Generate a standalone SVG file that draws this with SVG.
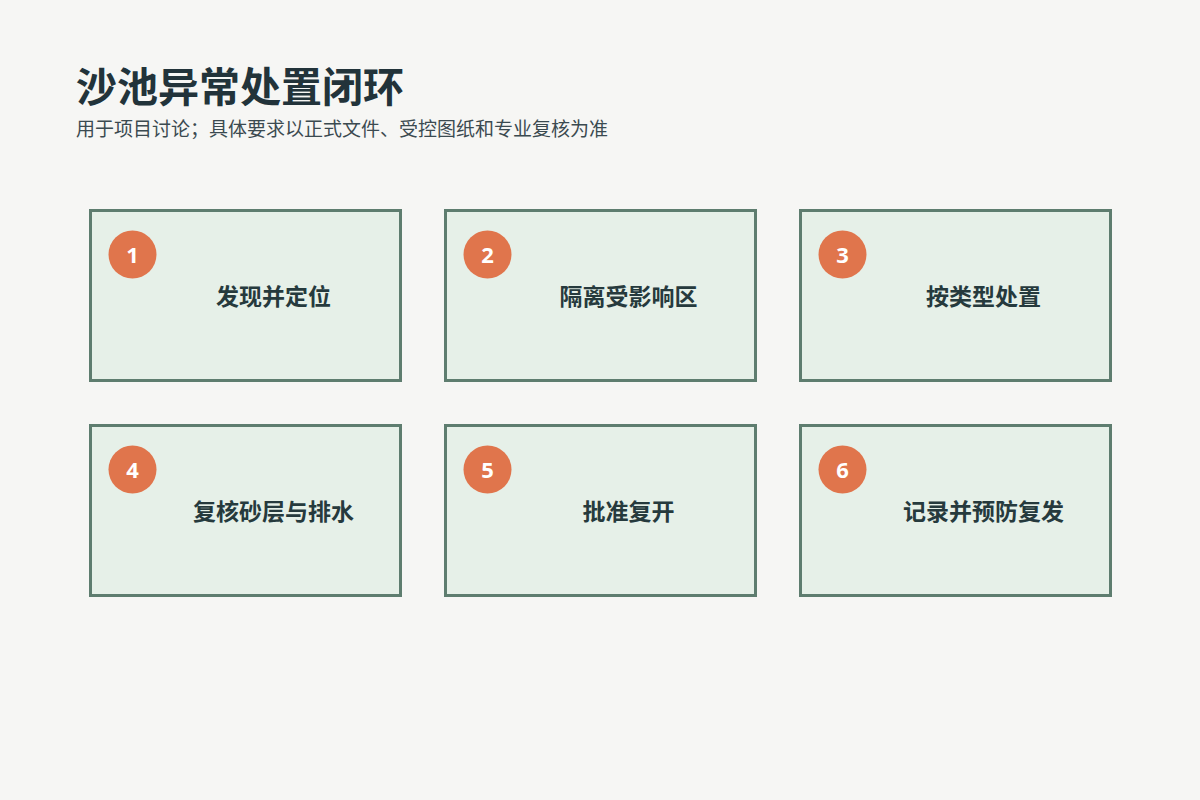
<svg xmlns="http://www.w3.org/2000/svg" width="1200" height="800" viewBox="0 0 1200 800">
  <style>
    .bg { fill: #f6f6f4; }
    .title { font-family: "Noto Sans CJK SC", "Noto Sans", sans-serif; font-size: 41px; font-weight: 700; fill: #22333a; }
    .subtitle { font-family: "Noto Sans CJK SC", "Noto Sans", sans-serif; font-size: 19px; font-weight: 400; fill: #3b4a50; }
    .box { fill: #e6f0e8; stroke: #5e7d6f; stroke-width: 3; }
    .badge { fill: #e0754c; }
    .num { font-family: "Open Sans", "Noto Sans", sans-serif; font-size: 22px; font-weight: 700; fill: #ffffff; text-anchor: middle; }
    .label { font-family: "Noto Sans CJK SC", "Noto Sans", sans-serif; font-size: 23px; font-weight: 700; fill: #263a3d; text-anchor: middle; }
  </style>
  <rect class="bg" x="0" y="0" width="1200" height="800"/>
  <g id="header">
    <text class="title" x="76" y="102">沙池异常处置闭环</text>
    <text class="subtitle" x="76" y="136">用于项目讨论；具体要求以正式文件、受控图纸和专业复核为准</text>
  </g>
  <g id="connectors"></g>
  <g id="node-1">
    <rect class="box" x="90.5" y="210.5" width="310" height="170"/>
    <circle class="badge" cx="132.5" cy="254.5" r="24"/>
    <text class="num" x="132.5" y="262.5">1</text>
    <text class="label" x="273.5" y="304.5">发现并定位</text>
  </g>
  <g id="node-2">
    <rect class="box" x="445.5" y="210.5" width="310" height="170"/>
    <circle class="badge" cx="487.5" cy="254.5" r="24"/>
    <text class="num" x="487.5" y="262.5">2</text>
    <text class="label" x="628.5" y="304.5">隔离受影响区</text>
  </g>
  <g id="node-3">
    <rect class="box" x="800.5" y="210.5" width="310" height="170"/>
    <circle class="badge" cx="842.5" cy="254.5" r="24"/>
    <text class="num" x="842.5" y="262.5">3</text>
    <text class="label" x="983.5" y="304.5">按类型处置</text>
  </g>
  <g id="node-4">
    <rect class="box" x="90.5" y="425.5" width="310" height="170"/>
    <circle class="badge" cx="132.5" cy="469.5" r="24"/>
    <text class="num" x="132.5" y="477.5">4</text>
    <text class="label" x="273.5" y="519.5">复核砂层与排水</text>
  </g>
  <g id="node-5">
    <rect class="box" x="445.5" y="425.5" width="310" height="170"/>
    <circle class="badge" cx="487.5" cy="469.5" r="24"/>
    <text class="num" x="487.5" y="477.5">5</text>
    <text class="label" x="628.5" y="519.5">批准复开</text>
  </g>
  <g id="node-6">
    <rect class="box" x="800.5" y="425.5" width="310" height="170"/>
    <circle class="badge" cx="842.5" cy="469.5" r="24"/>
    <text class="num" x="842.5" y="477.5">6</text>
    <text class="label" x="983.5" y="519.5">记录并预防复发</text>
  </g>
</svg>
